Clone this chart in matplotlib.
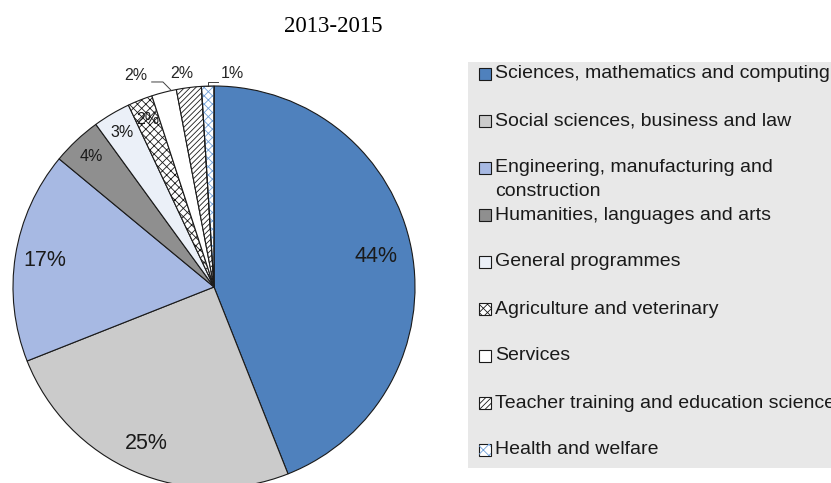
import matplotlib
matplotlib.use("Agg")
import matplotlib.pyplot as plt
import numpy as np
from matplotlib.patches import Rectangle, Wedge

W, H = 831, 483

fields = [
    "Sciences, mathematics and computing",
    "Social sciences, business and law",
    "Engineering, manufacturing and\nconstruction",
    "Humanities, languages and arts",
    "General programmes",
    "Agriculture and veterinary",
    "Services",
    "Teacher training and education science",
    "Health and welfare",
]
shares = [44, 25, 17, 4, 3, 2, 2, 2, 1]
colors = ["#4f81bd", "#cbcbcb", "#a7b9e3", "#8f8f8f", "#ebf0f8",
          "white", "white", "white", "white"]
hatches = [None, None, None, None, None, "xxxx", None, "//////", None]

plt.rcParams["font.family"] = ["Liberation Sans", "DejaVu Sans"]
plt.rcParams["hatch.linewidth"] = 0.6


def fx(px):
    return px / W


def fy(py):
    return 1 - py / H


fig = plt.figure(figsize=(W / 100, H / 100), dpi=100)

# pie: centre (214, 287) px, radius 201 px
cx, cy, r_px = 214, 287, 201
ax = fig.add_axes([fx(cx - r_px), fy(cy + r_px), 2 * r_px / W, 2 * r_px / H])
wedges, _ = ax.pie(shares, colors=colors, startangle=90, counterclock=False,
                   wedgeprops=dict(edgecolor="#1a1a1a", linewidth=0.8))
ax.set_xlim(-1, 1)
ax.set_ylim(-1, 1)
ax.set_aspect("equal")
ax.axis("off")

for w, h in zip(wedges, hatches):
    if h:
        w.set_hatch(h)

# light blue cross-hatch on the health slice
hw = wedges[-1]
ax.add_patch(Wedge(hw.center, hw.r, hw.theta1, hw.theta2, fill=False,
                   hatch="xxxx", edgecolor="#6f9fd8", linewidth=0, zorder=3))
ax.add_patch(Wedge(hw.center, hw.r, hw.theta1, hw.theta2, fill=False,
                   edgecolor="#1a1a1a", linewidth=0.8, zorder=4))

# labels inside the slices
inside = {0: (0.82, 15.5), 1: (0.85, 15.5), 2: (0.85, 15.5),
          3: (0.89, 11.5), 4: (0.895, 11.5), 5: (0.895, 11.5)}
for i, (dist, size) in inside.items():
    w = wedges[i]
    mid = np.deg2rad((w.theta1 + w.theta2) / 2)
    ax.text(dist * np.cos(mid), dist * np.sin(mid), f"{shares[i]}%",
            ha="center", va="center", fontsize=size, color="#1a1a1a")

# labels above the thin slices, with leader lines
outside = {6: (-0.388, 1.05), 7: (-0.159, 1.06), 8: (0.09, 1.06)}
for i, (tx, ty) in outside.items():
    ax.text(tx, ty, f"{shares[i]}%", ha="center", va="center",
            fontsize=11.5, color="#262626", clip_on=False)

w = wedges[6]
a = np.deg2rad(w.theta1 + 0.2 * (w.theta2 - w.theta1))
ax.plot([-0.31, -0.254, np.cos(a)], [1.02, 1.02, np.sin(a)],
        color="#404040", lw=0.7, clip_on=False)
w = wedges[8]
a = np.deg2rad((w.theta1 + w.theta2) / 2)
ax.plot([0.02, np.cos(a), np.cos(a)], [1.02, 1.02, np.sin(a)],
        color="#404040", lw=0.7, clip_on=False)

fig.text(fx(333), fy(26), "2013-2015", ha="center", va="center",
         fontsize=16.5, family=["Liberation Serif", "DejaVu Serif"])

# legend panel
fig.patches.append(Rectangle((fx(468), fy(468)), fx(W + 10) - fx(468),
                             fy(62) - fy(468), transform=fig.transFigure,
                             facecolor="#e8e8e8", edgecolor="none", zorder=0))
row0, step, box = 74, 47, 12
for i, (label, col) in enumerate(zip(fields, colors)):
    yc = row0 + i * step
    sq = Rectangle((fx(479), fy(yc + box / 2)), box / W, box / H,
                   transform=fig.transFigure, facecolor=col,
                   edgecolor="#1a1a1a", linewidth=0.8, hatch=hatches[i],
                   zorder=2)
    fig.patches.append(sq)
    if i == len(fields) - 1:
        fig.patches.append(Rectangle((fx(479), fy(yc + box / 2)), box / W,
                                     box / H, transform=fig.transFigure,
                                     fill=False, edgecolor="#6f9fd8",
                                     linewidth=0, hatch="xxx", zorder=3))
    for k, line in enumerate(label.split("\n")):
        fig.text(fx(495), fy(yc + k * 24), line, ha="left", va="center",
                 fontsize=14, color="#1a1a1a")

fig.savefig("out.png", dpi=100)
